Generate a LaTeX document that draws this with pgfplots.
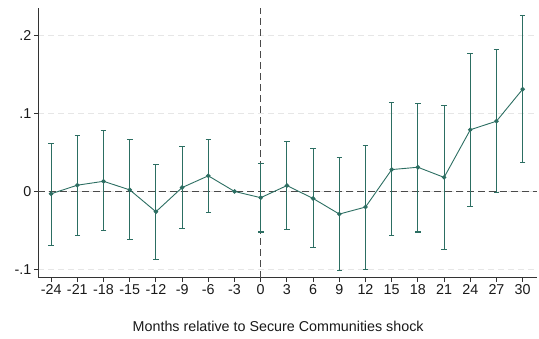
\documentclass[border=0pt]{standalone}
\usepackage{fontspec}
\setmainfont{Liberation Sans}
\usepackage{pgfplots}
\pgfplotsset{compat=1.18}
\usepackage{pgfplotstable}
\definecolor{teal1}{HTML}{2C6E62}
\definecolor{zeroline}{HTML}{4A4A4A}
\definecolor{gridc}{HTML}{E6E6E6}
\pgfplotstableread{
x y lo hi
-24 -0.003 -0.069 0.061
-21 0.008 -0.057 0.072
-18 0.013 -0.050 0.078
-15 0.002 -0.062 0.066
-12 -0.026 -0.087 0.035
-9 0.005 -0.048 0.058
-6 0.020 -0.027 0.067
-3 0.000 0.000 0.000
0 -0.008 -0.052 0.036
3 0.0075 -0.049 0.064
6 -0.009 -0.072 0.055
9 -0.029 -0.1015 0.044
12 -0.020 -0.0998 0.059
15 0.028 -0.057 0.114
18 0.031 -0.052 0.113
21 0.018 -0.074 0.110
24 0.079 -0.0195 0.177
27 0.090 -0.001 0.182
30 0.131 0.037 0.225
}\datatable
\pgfplotstableread{
x y lo hi
-24 -0.003 -0.069 0.061
-21 0.008 -0.057 0.072
-18 0.013 -0.050 0.078
-15 0.002 -0.062 0.066
-12 -0.026 -0.087 0.035
-9 0.005 -0.048 0.058
-6 0.020 -0.027 0.067
0 -0.008 -0.052 0.036
3 0.0075 -0.049 0.064
6 -0.009 -0.072 0.055
9 -0.029 -0.1015 0.044
12 -0.020 -0.0998 0.059
15 0.028 -0.057 0.114
18 0.031 -0.052 0.113
21 0.018 -0.074 0.110
24 0.079 -0.0195 0.177
27 0.090 -0.001 0.182
30 0.131 0.037 0.225
}\citable
\begin{document}
\begin{tikzpicture}
\begin{axis}[
  at={(0,0)}, anchor=south west,
  scale only axis,
  width=498.7pt, height=269.7pt,
  xmin=-25.47, xmax=31.64,
  ymin=-0.1105, ymax=0.235,
  axis x line*=bottom, axis y line*=left,
  axis line style={draw=black!80, line width=0.9pt},
  tick style={draw=black!80, line width=0.9pt},
  tick align=outside,
  major tick length=4.5pt,
  xtick={-24,-21,...,30},
  xticklabels={-24,-21,-18,-15,-12,-9,-6,-3,0,3,6,9,12,15,18,21,24,27,30},
  ytick={-0.1,0,0.1,0.2},
  yticklabels={-.1,0,.1,.2},
  ymajorgrids,
  major grid style={draw=gridc, dash pattern=on 6pt off 4pt, line width=0.7pt},
  ticklabel style={font=\fontsize{14.3}{17}\selectfont, text=black!90},
  xticklabel style={yshift=1pt},
  yticklabel style={xshift=1pt},
  /pgf/number format/assume math mode=true,
  xlabel={Months relative to Secure Communities shock},
  xlabel style={font=\fontsize{14.3}{17}\selectfont, at={(axis description cs:0.481,0)}, anchor=base, yshift=-54pt, text=black!90},
  clip=false,
]
\draw[zeroline, line width=1.1pt, dash pattern=on 7pt off 4pt] (axis cs:-25.47,0) -- (axis cs:31.64,0);
\draw[zeroline, line width=1.1pt, dash pattern=on 7pt off 4pt] (axis cs:0,-0.1105) -- (axis cs:0,0.235);
\addplot[draw=none, mark=none, forget plot,
  error bars/.cd, y dir=both, y explicit,
  error bar style={teal1, line width=1.1pt},
  error mark options={rotate=90, mark size=2.8pt, teal1, line width=1.1pt}]
  table[x=x, y=y, y error plus expr=\thisrow{hi}-\thisrow{y}, y error minus expr=\thisrow{y}-\thisrow{lo}] {\citable};
\addplot[teal1, line width=0.9pt, mark=*, mark size=1.8pt, mark options={fill=teal1, draw=teal1}]
  table[x=x, y=y] {\datatable};
\end{axis}
\pgfresetboundingbox
\useasboundingbox (-38.3pt,-61.3pt) rectangle (500.7pt,277.7pt);
\end{tikzpicture}
\end{document}
